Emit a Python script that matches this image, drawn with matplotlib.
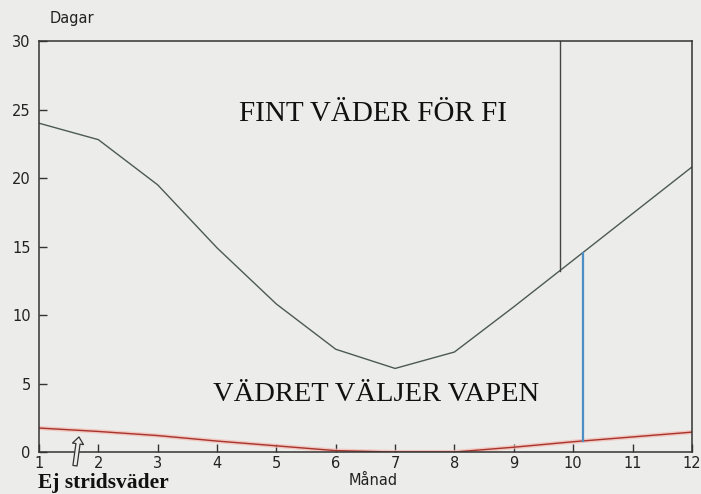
import numpy as np
import matplotlib.pyplot as plt

# values
months = [1, 2, 3, 4, 5, 6, 7, 8, 9, 10, 11, 12]
fine_days = [24.0, 22.8, 19.5, 14.9, 10.8, 7.5, 6.1, 7.3, 10.6, 14.0, 17.4, 20.8]
bad_days = [1.75, 1.5, 1.2, 0.8, 0.45, 0.1, 0.0, 0.0, 0.35, 0.75, 1.1, 1.45]
dark_marker = 9.77
blue_marker = 10.16
yticks = [0, 5, 10, 15, 20, 25, 30]

bg = "#ececea"
ink = "#333333"
label_font = "DejaVu Sans"
serif = "Liberation Serif"

fig = plt.figure(figsize=(7.01, 4.94), dpi=100, facecolor=bg)
ax = fig.add_axes([0.0556, 0.085, 0.9314, 0.832], facecolor=bg)

ax.plot(months, fine_days, color="#4c5a52", linewidth=1.0)
ax.plot(months, bad_days, color="#f2b8b0", linewidth=3.0, alpha=0.7)
ax.plot(months, bad_days, color="#a8342c", linewidth=1.0)

g_dark = np.interp(dark_marker, months, fine_days)
ax.plot([dark_marker, dark_marker], [g_dark, 30], color="#444444", linewidth=1.0)
g_blue = np.interp(blue_marker, months, fine_days)
r_blue = np.interp(blue_marker, months, bad_days)
ax.plot([blue_marker, blue_marker], [r_blue, g_blue], color="#4d8fc4", linewidth=1.6)

ax.set_xlim(1, 12)
ax.set_ylim(0, 30)
ax.set_xticks(months)
ax.set_yticks(yticks)
ax.tick_params(direction="in", length=6, width=1.0, color=ink, labelsize=10.5,
               labelcolor="#222222")
ax.tick_params(axis="x", pad=3)
ax.tick_params(axis="y", pad=6)
for s in ax.spines.values():
    s.set_color(ink)
    s.set_linewidth(1.1)

for lbl in ax.get_xticklabels() + ax.get_yticklabels():
    lbl.set_fontfamily(label_font)

fig.text(0.071, 0.963, "Dagar", fontsize=10.5, family=label_font, color="#222222",
         ha="left", va="center")
fig.text(0.498, 0.028, "Månad", fontsize=10.5, family=label_font, color="#222222",
         ha="left", va="center")

ax.text(6.62, 24.7, "FINT VÄDER FÖR FI", fontsize=21, family=serif,
        color="#111111", ha="center", va="center")
ax.text(6.68, 4.2, "VÄDRET VÄLJER VAPEN", fontsize=20.5, family=serif,
        color="#111111", ha="center", va="center")
fig.text(0.054, 0.012, "Ej stridsväder", fontsize=15.5, family=serif,
         fontweight="bold", color="#111111", ha="left", va="baseline")

ax.annotate("", xy=(1.68, 1.3), xytext=(1.6, -1.2), annotation_clip=False,
            arrowprops=dict(arrowstyle="simple,head_width=0.8,head_length=0.5,tail_width=0.3",
                            fc=bg, ec="#333333", lw=0.9))

fig.savefig("out.png", dpi=100, facecolor=bg)
